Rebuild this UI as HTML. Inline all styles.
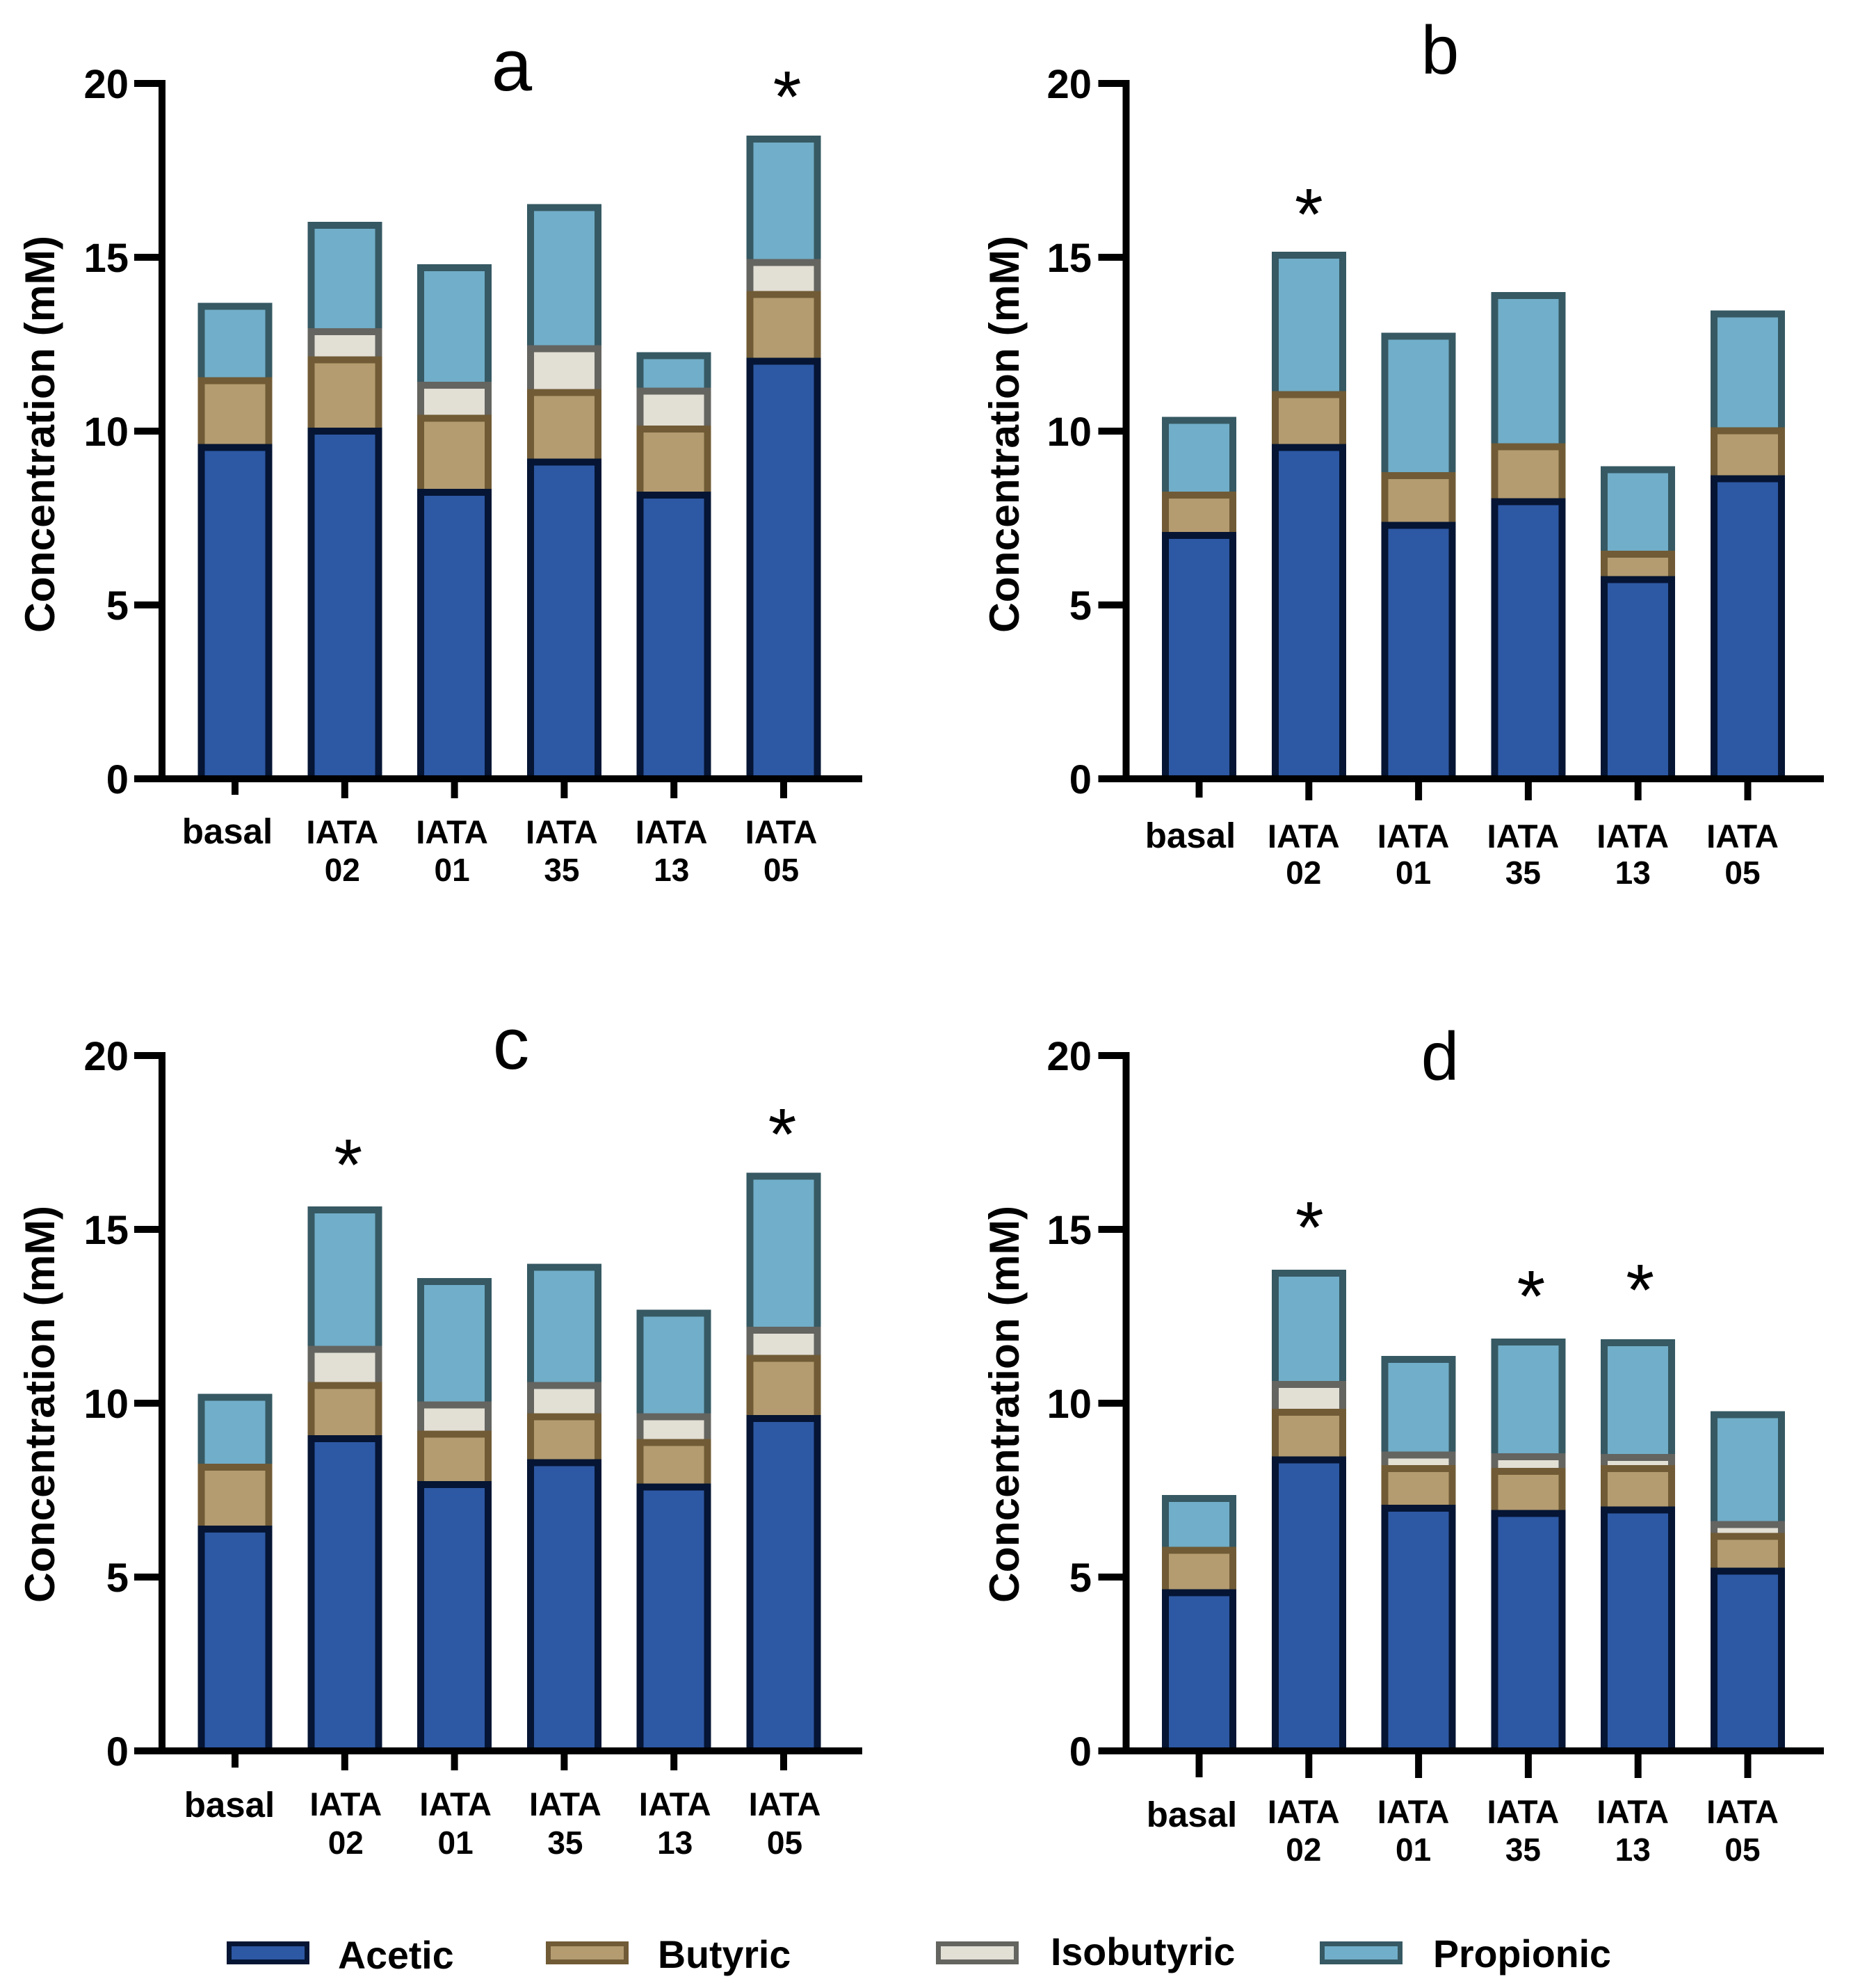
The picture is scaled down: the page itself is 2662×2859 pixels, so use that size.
<!DOCTYPE html>
<html lang="en">
<head>
<meta charset="utf-8">
<title>Concentration by strain, panels a to d</title>
<style>
html,body{margin:0;padding:0;background:#fff;}
svg{display:block;}
text{font-family:"Liberation Sans",Arial,sans-serif;fill:#000;}
</style>
</head>
<body>
<svg id="chart" xmlns="http://www.w3.org/2000/svg" width="2662" height="2859" viewBox="0 0 2662 2859"></svg>
<script>
const categories = ["basal", "IATA 02", "IATA 01", "IATA 35", "IATA 13", "IATA 05"];
const yTicks = [0, 5, 10, 15, 20];
const seriesNames = ["Acetic", "Butyric", "Isobutyric", "Propionic"];

const aAcetic = [9.53, 10.0, 8.24, 9.11, 8.16, 12.01];
const aButyric = [1.92, 2.05, 2.13, 2.0, 1.9, 1.92];
const aIsobutyric = [0, 0.81, 0.95, 1.26, 1.09, 0.92];
const aPropionic = [2.14, 3.06, 3.38, 4.06, 1.02, 3.55];
const aStars = [null, null, null, null, null, 19.88];

const bAcetic = [7.0, 9.53, 7.29, 7.97, 5.73, 8.63];
const bButyric = [1.16, 1.52, 1.43, 1.58, 0.73, 1.38];
const bIsobutyric = [0, 0, 0, 0, 0, 0];
const bPropionic = [2.15, 4.01, 4.01, 4.35, 2.43, 3.36];
const bStars = [null, 16.5, null, null, null, null];

const cAcetic = [6.38, 8.98, 7.66, 8.29, 7.59, 9.56];
const cButyric = [1.78, 1.53, 1.45, 1.32, 1.28, 1.73];
const cIsobutyric = [0, 1.04, 0.84, 0.9, 0.74, 0.81];
const cPropionic = [2.01, 4.01, 3.55, 3.4, 2.98, 4.43];
const cStars = [null, 17.12, null, null, null, 18.0];

const dAcetic = [4.55, 8.37, 6.98, 6.83, 6.93, 5.17];
const dButyric = [1.22, 1.37, 1.14, 1.21, 1.19, 1.0];
const dIsobutyric = [0, 0.8, 0.39, 0.42, 0.32, 0.34];
const dPropionic = [1.49, 3.2, 2.75, 3.3, 3.3, 3.16];
const dStars = [null, 15.32, null, 13.34, 13.52, null];

const fills = {Acetic: "#2d58a3", Butyric: "#b49c70", Isobutyric: "#e2dfd5", Propionic: "#71aec9"};
const strokes = {Acetic: "#051533", Butyric: "#705b36", Isobutyric: "#646460", Propionic: "#365963"};

const svg = document.getElementById("chart");
const NS = "http://www.w3.org/2000/svg";

function make(tag, parent, attrs, content) {
  const node = document.createElementNS(NS, tag);
  for (const key in attrs) node.setAttribute(key, attrs[key]);
  if (content !== undefined) node.textContent = content;
  parent.appendChild(node);
  return node;
}

function drawPanel(p) {
  const yScale = v => p.y0 - v * 50;
  const xScale = i => p.x0 + i * 157.8;

  const g = make("g", svg, {});
  
  

  const series = {Acetic: p.acetic, Butyric: p.butyric, Isobutyric: p.isobutyric, Propionic: p.propionic};

  categories.forEach((cat, i) => {
    const bar = make("g", g, {});
    
    
    const segs = [];
    let base = 0;
    seriesNames.forEach(name => {
      const v = series[name][i];
      segs.push({name: name, from: base, to: base + v, v: v});
      base += v;
    });
    segs.reverse().forEach(s => {
      if (s.v <= 0) return;
      const top = yScale(s.to);
      const bottom = yScale(s.from);
      const r = make("rect", bar, {
        x: xScale(i) - 48.5, y: top, width: 97, height: bottom - top,
        fill: fills[s.name], stroke: strokes[s.name], "stroke-width": 10,
        "shape-rendering": "crispEdges"
      });
      
      
    });
  });

  const yLine = make("rect", g, {x: p.axisX - 5, y: yScale(20) - 5, width: 10, height: yScale(0) - yScale(20) + 10, fill: "#000"});
  
  
  const xLine = make("rect", g, {x: p.axisX - 40, y: yScale(0) - 5, width: p.axisEnd - p.axisX + 40, height: 10, fill: "#000"});
  
  

  yTicks.forEach(t => {
    const tick = make("rect", g, {x: p.axisX - 40, y: yScale(t) - 5, width: 40, height: 10, fill: "#000"});
    
    
    const lab = make("text", g, {x: p.tickLabelX, y: yScale(t) + 21, "text-anchor": "end", "font-size": 58, "font-weight": "bold"}, String(t));
    
    
  });

  categories.forEach((cat, i) => {
    const tickBottom = i === 0 ? p.tickEnd0 : p.tickEnd;
    const tick = make("rect", g, {x: xScale(i) - 5, y: yScale(0) + 5, width: 10, height: tickBottom - yScale(0) - 5, fill: "#000"});
    
    
    const words = cat.split(" ");
    if (words.length === 1) {
      const lab = make("text", g, {x: xScale(i) + p.basalDx, y: p.basalY, "text-anchor": "middle", "font-size": 51, "font-weight": "bold"}, cat);
      
      
    } else {
      const l1 = make("text", g, {x: xScale(i) + p.iataDx, y: p.iataY, "text-anchor": "middle", "font-size": 47.5, "font-weight": "bold"}, words[0]);
      
      
      const l2 = make("text", g, {x: xScale(i) + p.iataDx, y: p.numY, "text-anchor": "middle", "font-size": 46, "font-weight": "bold"}, words[1]);
      
      
    }
    const star = p.stars[i];
    if (star !== null) {
      const dx = p.starDx[i] || 0;
      const s = make("text", g, {x: xScale(i) + dx, y: yScale(star) + 49, "text-anchor": "middle", "font-size": 105}, "*");
      
      
    }
  });

  const title = make("text", g, {
    transform: "translate(" + p.titleX + " " + p.titleY + ") rotate(-90)",
    "text-anchor": "middle", "font-size": 60, "font-weight": "bold",
    textLength: 571, lengthAdjust: "spacingAndGlyphs"
  }, "Concentration (mM)");
  
  

  const letter = make("text", g, {x: p.letterX, y: p.letterY, "text-anchor": "middle", "font-size": p.letterSize}, p.id);
  
  
}

drawPanel({id: "a", x0: 338, y0: 1120, axisX: 233, axisEnd: 1240, tickLabelX: 185, tickEnd0: 1143, tickEnd: 1148,
  basalDx: -11, basalY: 1213, iataDx: -3.5, iataY: 1213, numY: 1267, titleX: 78, titleY: 624.5,
  letterX: 736, letterY: 130, letterSize: 105,
  acetic: aAcetic, butyric: aButyric, isobutyric: aIsobutyric, propionic: aPropionic, stars: aStars, starDx: {5: 5}});

drawPanel({id: "b", x0: 1724.5, y0: 1120, axisX: 1619.5, axisEnd: 2623, tickLabelX: 1570, tickEnd0: 1147, tickEnd: 1151,
  basalDx: -12.5, basalY: 1219, iataDx: -7.5, iataY: 1219, numY: 1271, titleX: 1465, titleY: 624.5,
  letterX: 2071, letterY: 106, letterSize: 98,
  acetic: bAcetic, butyric: bButyric, isobutyric: bIsobutyric, propionic: bPropionic, stars: bStars, starDx: {}});

drawPanel({id: "c", x0: 338, y0: 2518, axisX: 233, axisEnd: 1240, tickLabelX: 185, tickEnd0: 2542, tickEnd: 2546,
  basalDx: -8, basalY: 2613, iataDx: 1.5, iataY: 2611, numY: 2666, titleX: 78, titleY: 2019.5,
  letterX: 735, letterY: 1537, letterSize: 105,
  acetic: cAcetic, butyric: cButyric, isobutyric: cIsobutyric, propionic: cPropionic, stars: cStars, starDx: {1: 5, 5: -2}});

drawPanel({id: "d", x0: 1724.5, y0: 2518, axisX: 1619.5, axisEnd: 2623, tickLabelX: 1570, tickEnd0: 2556, tickEnd: 2557,
  basalDx: -10.5, basalY: 2627, iataDx: -7.5, iataY: 2622, numY: 2676, titleX: 1465, titleY: 2019.5,
  letterX: 2071, letterY: 1553, letterSize: 98,
  acetic: dAcetic, butyric: dButyric, isobutyric: dIsobutyric, propionic: dPropionic, stars: dStars, starDx: {1: 1, 3: 4, 4: 3}});

function drawLegendEntry(name, swatchX, textX, textY) {
  const g = make("g", svg, {});
  
  
  const sw = make("rect", g, {x: swatchX + 3.5, y: 2795.5, width: 112, height: 26, fill: fills[name], stroke: strokes[name], "stroke-width": 7, "shape-rendering": "crispEdges"});
  
  
  const t = make("text", g, {x: textX, y: textY, "font-size": 55.5, "font-weight": "bold"}, name);
  
  
}

drawLegendEntry("Acetic", 326, 486, 2831);
drawLegendEntry("Butyric", 785, 946, 2830);
drawLegendEntry("Isobutyric", 1346, 1511, 2826);
drawLegendEntry("Propionic", 1898, 2061, 2829);
</script>
</body>
</html>
